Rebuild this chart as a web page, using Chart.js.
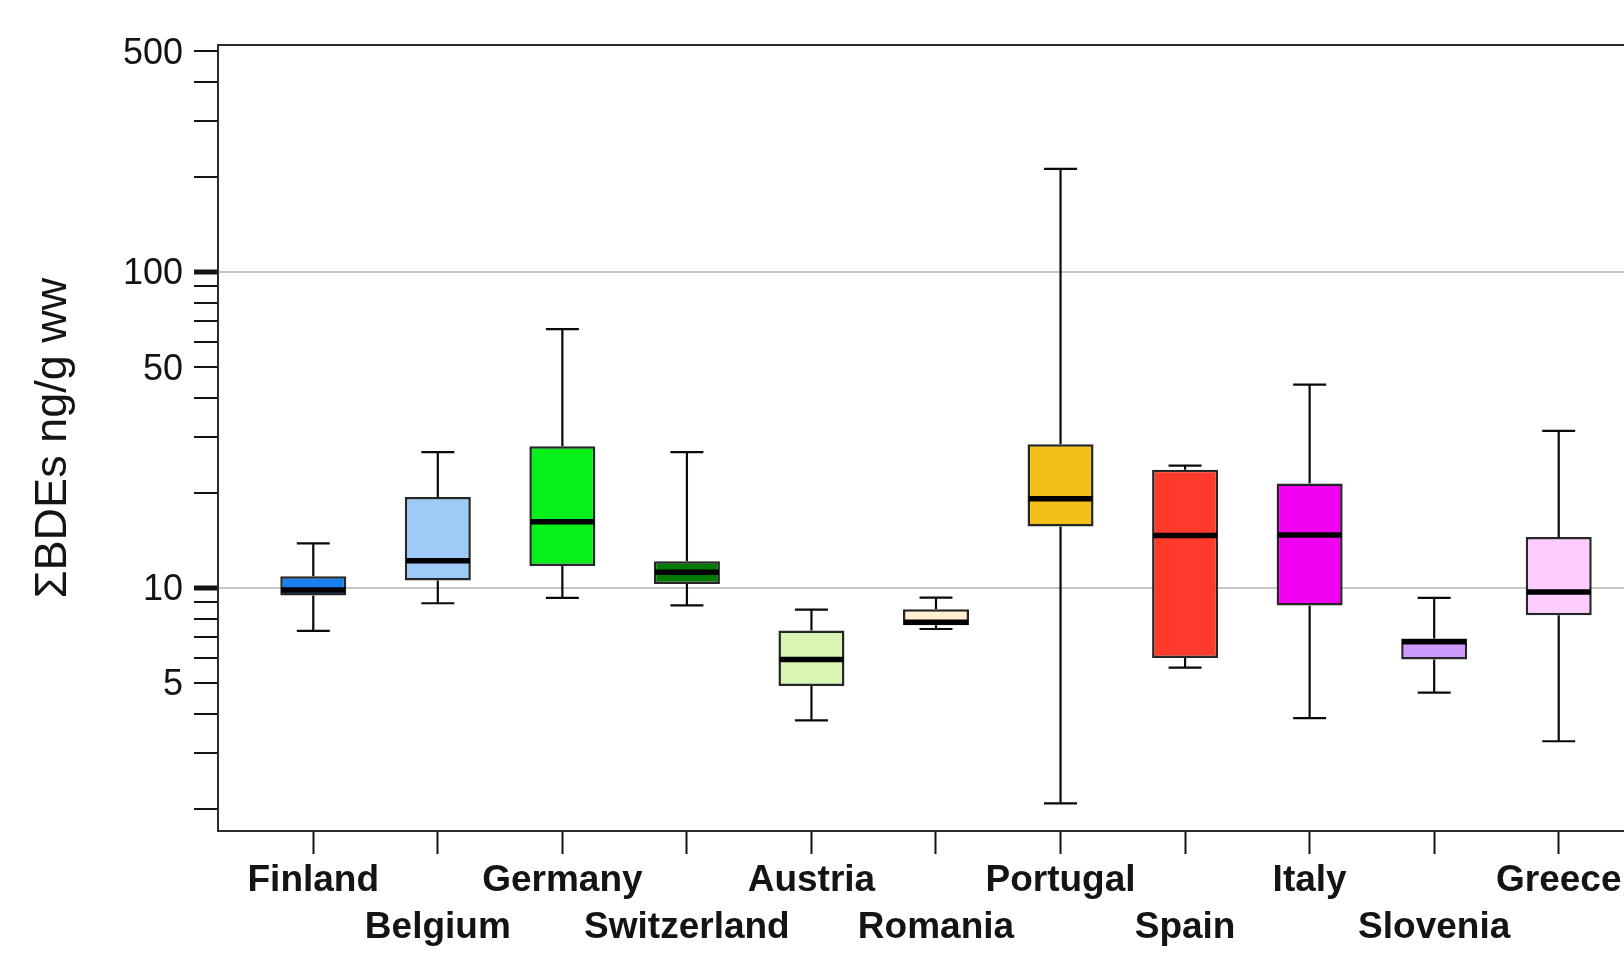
<!DOCTYPE html>
<html>
<head>
<meta charset="utf-8">
<script src="https://cdn.jsdelivr.net/npm/chart.js@4.4.1/dist/chart.umd.min.js"></script>
<style>
  html, body { margin: 0; padding: 0; background: #ffffff; overflow: hidden; }
  #wrap { position: absolute; left: 0; top: 0; width: 1680px; height: 973px; }
</style>
</head>
<body>
<div id="wrap"><canvas id="c"></canvas></div>
<script>
// ΣBDE concentrations (ng/g ww) per country: whiskers, quartiles and median
const countries   = ['Finland', 'Belgium', 'Germany', 'Switzerland', 'Austria', 'Romania',
                     'Portugal', 'Spain', 'Italy', 'Slovenia', 'Greece'];
const whiskerLow  = [7.31, 8.94, 9.30, 8.80, 3.81, 7.41, 2.08, 5.59, 3.87, 4.66, 3.27];
const q1          = [9.46, 10.56, 11.72, 10.29, 4.89, 7.61, 15.65, 6.00, 8.80, 5.93, 8.19];
const median      = [9.85, 12.18, 16.19, 11.21, 5.93, 7.78, 19.15, 14.66, 14.70, 6.75, 9.71];
const q3          = [10.89, 19.40, 28.10, 12.15, 7.33, 8.56, 28.50, 23.66, 21.40, 6.91, 14.48];
const whiskerHigh = [13.83, 26.90, 65.90, 26.90, 8.54, 9.32, 212.0, 24.37, 44.00, 9.30, 31.40];
const boxColors   = ['#1a80f0', '#9ccbf8', '#08f01a', '#007a00', '#d8f5b4', '#fff0d0',
                     '#f2c018', '#ff3a2a', '#f200f2', '#cc99ff', '#ffccff'];

// Log axis: minor ticks everywhere, labels only on a few, grid lines on decades
const yTickValues = [2, 3, 4, 5, 6, 7, 8, 9, 10, 20, 30, 40, 50, 60, 70, 80, 90, 100, 200, 300, 400, 500];
const yTickLabels = [5, 10, 50, 100, 500];
const yGridValues = [10, 100];

const FONT = "'Liberation Sans', Arial, Helvetica, sans-serif";
const INK = '#141414';

// Whiskers behind the boxes, thick median bars on top of them
const boxWhiskers = {
  id: 'boxWhiskers',
  beforeDatasetsDraw(chart) {
    const { ctx, scales: { x, y } } = chart;
    const meta = chart.getDatasetMeta(0);
    ctx.save();
    ctx.strokeStyle = '#0a0a0a';
    ctx.lineWidth = 2.2;
    meta.data.forEach((bar, i) => {
      const cx = x.getPixelForValue(i);
      const half = bar.width / 4;
      const yHi = y.getPixelForValue(whiskerHigh[i]);
      const yLo = y.getPixelForValue(whiskerLow[i]);
      const yQ1 = y.getPixelForValue(q1[i]);
      const yQ3 = y.getPixelForValue(q3[i]);
      ctx.beginPath();
      ctx.moveTo(cx, yHi); ctx.lineTo(cx, yQ3);
      ctx.moveTo(cx, yQ1); ctx.lineTo(cx, yLo);
      ctx.moveTo(cx - half, yHi); ctx.lineTo(cx + half, yHi);
      ctx.moveTo(cx - half, yLo); ctx.lineTo(cx + half, yLo);
      ctx.stroke();
    });
    ctx.restore();
  },
  afterDatasetsDraw(chart) {
    const { ctx, scales: { y } } = chart;
    const meta = chart.getDatasetMeta(0);
    ctx.save();
    ctx.strokeStyle = '#000000';
    ctx.lineWidth = 5.5;
    meta.data.forEach((bar, i) => {
      const ym = y.getPixelForValue(median[i]);
      ctx.beginPath();
      ctx.moveTo(bar.x - bar.width / 2 + 1, ym);
      ctx.lineTo(bar.x + bar.width / 2 - 1, ym);
      ctx.stroke();
    });
    ctx.restore();
  }
};

// Top edge of the plot frame
const topFrame = {
  id: 'topFrame',
  afterDraw(chart) {
    const { ctx, chartArea: a } = chart;
    ctx.save();
    ctx.strokeStyle = '#2b2b2b';
    ctx.lineWidth = 2;
    ctx.beginPath();
    ctx.moveTo(a.left - 1, a.top);
    ctx.lineTo(a.right, a.top);
    ctx.stroke();
    ctx.restore();
  }
};

new Chart(document.getElementById('c'), {
  type: 'bar',
  data: {
    datasets: [{
      data: countries.map((_, i) => ({ x: i, y: [q1[i], q3[i]] })),
      backgroundColor: boxColors,
      borderColor: '#262626',
      borderWidth: 2.5,
      borderSkipped: false,
      categoryPercentage: 1,
      barPercentage: 0.53
    }]
  },
  options: {
    responsive: true,
    maintainAspectRatio: false,
    animation: false,
    layout: { padding: { top: 45, right: 26, left: 0, bottom: 0 } },
    plugins: { legend: { display: false }, tooltip: { enabled: false } },
    scales: {
      x: {
        type: 'linear',
        min: -0.765,
        max: 10.765,
        offset: false,
        afterBuildTicks(scale) { scale.ticks = countries.map((_, i) => ({ value: i })); },
        afterFit(scale) { scale.height = 142; },
        grid: {
          offset: false,
          drawOnChartArea: false,
          drawTicks: true,
          tickLength: 23,
          tickWidth: 2,
          tickColor: INK
        },
        border: { display: true, color: '#2b2b2b', width: 2 },
        ticks: {
          autoSkip: false,
          maxRotation: 0,
          minRotation: 0,
          padding: 3,
          color: INK,
          font: { family: FONT, size: 37, weight: 'bold', lineHeight: 47 / 37 },
          callback(v) {
            const i = Math.round(v);
            return i % 2 === 0 ? [countries[i], ''] : ['', countries[i]];
          }
        }
      },
      y: {
        type: 'logarithmic',
        min: 1.70,
        max: 523,
        afterBuildTicks(scale) { scale.ticks = yTickValues.map(v => ({ value: v })); },
        afterFit(scale) { scale.width = 218; },
        grid: {
          drawOnChartArea: true,
          drawTicks: true,
          tickLength: 24,
          color: ctx => (ctx.tick && yGridValues.includes(ctx.tick.value)) ? '#c8c8c8' : 'rgba(0,0,0,0)',
          lineWidth: 2,
          tickColor: INK,
          tickWidth: ctx => (ctx.tick && yGridValues.includes(ctx.tick.value)) ? 5 : 2
        },
        border: { display: true, color: '#2b2b2b', width: 2 },
        ticks: {
          autoSkip: false,
          padding: 11,
          labelOffset: 2.5,
          color: INK,
          font: { family: FONT, size: 36 },
          callback: v => yTickLabels.includes(v) ? String(v) : ''
        },
        title: {
          display: true,
          text: 'ΣBDEs ng/g ww',
          color: INK,
          font: { family: FONT, size: 45 },
          padding: { top: 27, bottom: 0 }
        }
      }
    }
  },
  plugins: [boxWhiskers, topFrame]
});
</script>
</body>
</html>
